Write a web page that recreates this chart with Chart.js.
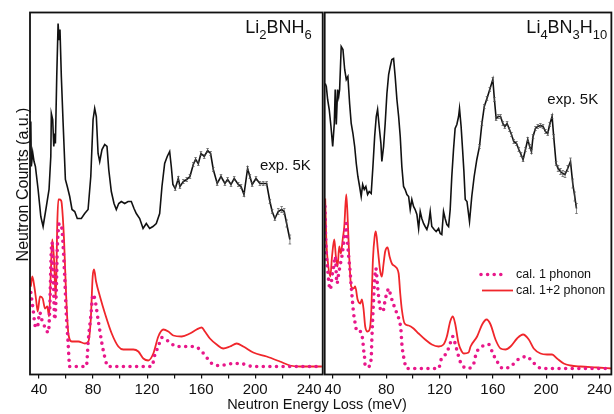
<!DOCTYPE html>
<html>
<head>
<meta charset="utf-8">
<script src="https://cdn.jsdelivr.net/npm/chart.js@4.4.1/dist/chart.umd.min.js"></script>
<style>
  html, body { margin: 0; padding: 0; background: #fff; }
  #wrap { position: relative; width: 614px; height: 414px; }
  #wrap canvas { position: absolute; left: 0; top: 0; }
</style>
</head>
<body>
<div id="wrap">
  <canvas id="chartL" width="614" height="414"></canvas>
  <canvas id="chartR" width="614" height="414"></canvas>
</div>
<script>
// --- Li2BNH6 (left panel) ---
const expLeftE = [33.9,34.3,35.3,36.3,37.3,39.3,41.3,43.0,45.4,47.4,
  48.7,49.1,50.1,50.9,51.6,52.1,53.1,54.1,54.8,55.5,
  56.5,57.8,59.5,60.9,62.7,64.4,66.4,68.3,71.3,73.8,
  76.3,78.3,80.0,81.2,82.4,83.7,84.9,86.6,88.6,90.3,
  91.6,93.5,95.5,97.2,99.0,100.9,103.4,105.9,108.3,110.3,
  112.0,114.5,117.0,119.4,121.9,124.3,126.8,129.3,131.0,133.0,
  134.9,136.7,137.9,139.1,140.8,143.1,144.3,146.8,149.3,151.7,
  154.2,155.9,157.9,159.9,162.3,164.8,167.0,169.0,171.9,174.7,
  177.6,179.6,182.1,184.5,187.5,189.5,191.7,194.4,196.1,197.8,
  200.6,203.5,206.0,208.5,210.9,212.6,214.6,217.1,219.6,221.5,
  223.3,225.7];
const expLeftI = [253,208,222,213,208,185,158,148,168,185,
  218,261,255,228,241,231,298,351,335,345,
  298,252,195,188,178,165,163,156,156,161,
  165,198,255,266,258,221,213,225,230,228,
  205,183,171,165,171,173,171,173,173,166,
  161,156,146,151,146,148,151,161,188,211,
  218,223,208,190,186,196,188,193,195,198,
  210,215,211,221,218,224,221,205,191,198,
  191,195,190,196,190,188,180,206,198,190,
  196,191,191,191,173,163,156,163,165,163,
  151,135];
const errLeftFrom = 140;   // error bars shown from this energy on
const errLeft = [2,2,2,2,2,2,2,2,2,2,
  2,2,2,2,2,2,2,2,2,2,
  2,2,2,2,2,2,2,2,2,2,
  2,2,2,3,3,3,3.5,4.5];

const twoLeftE = [33.9,35.0,36.5,37.8,39.0,40.7,42.7,44.4,46.1,47.4,
  48.7,49.8,51.1,52.4,53.5,54.3,55.0,56.3,56.8,58.5,
  60.0,61.7,64.2,69.1,74.0,76.5,78.3,79.7,80.7,82.2,
  85.1,88.8,93.8,98.7,102.4,109.8,113.5,117.2,120.9,124.6,
  128.3,132.0,135.7,139.4,145.6,151.7,156.7,160.4,162.8,166.5,
  171.5,176.4,181.3,186.3,191.2,198.6,208.5,218.3,225.7,233.1,
  249.4];
const twoLeftI = [88,98,88,75,63,78,76,66,68,58,
  101,135,115,75,151,175,175,174,171,135,
  81,41,33,33,31,33,55,98,105,93,
  78,61,41,28,25,25,23,16,14,21,
  38,45,43,39,38,41,45,47,43,36,
  30,26,28,31,28,22,18,13,9,8,
  8];

const oneLeftE = [33.9,35.6,37.3,38.7,40.5,42.0,43.0,44.4,46.9,47.9,
  49.1,49.6,50.4,51.6,52.8,53.5,55.0,56.5,59.0,60.0,
  61.5,62.7,75.0,76.5,78.3,80.0,81.4,83.7,87.4,91.3,
  123.4,125.8,128.3,130.8,134.0,136.9,141.9,154.2,159.1,164.1,
  168.9,173.9,183.8,188.7,198.6,249.4];
const oneLeftI = [82,65,48,47,62,55,52,47,42,65,
  125,132,105,55,85,125,151,149,98,65,
  32,8,8,35,58,80,75,55,25,8,
  8,20,28,37,35,32,28,28,25,17,
  10,9,11,11,8,8];

// --- Li4BN3H10 (right panel) ---
const expRightE = [34.2,35.0,36.0,37.2,38.5,39.8,41.0,41.7,42.5,43.5,
  44.3,45.0,46.2,47.5,48.8,50.0,51.2,52.5,53.7,55.0,
  56.3,57.5,58.7,60.0,61.2,62.3,63.5,64.7,66.0,67.2,
  68.7,70.0,71.3,72.5,73.5,74.7,76.0,76.7,78.0,79.2,
  80.5,81.8,83.0,84.2,85.5,86.7,88.0,89.3,90.5,91.7,
  93.0,94.2,95.5,96.8,98.0,99.2,100.5,101.7,103.0,104.3,
  105.5,106.7,108.0,109.2,110.5,111.8,113.0,114.2,116.0,117.5,
  119.3,120.5,121.7,123.0,124.2,125.5,126.8,128.0,129.2,130.5,
  131.7,133.0,134.3,135.0,136.2,137.3,138.3,139.3,140.6,142.5,
  144.2,146.0,148.0,150.0,151.8,153.6,155.6,157.7,160.0,161.2,
  162.5,164.0,165.8,167.5,169.0,170.7,172.5,174.0,175.7,177.8,
  179.5,181.2,182.7,184.5,186.2,187.7,189.0,190.2,192.0,193.7,
  195.7,197.7,199.5,201.2,202.7,204.5,205.7,207.5,209.0,210.8,
  212.5,214.2,216.2,218.3,220.0,221.5,222.8];
const expRightI = [291,288,275,265,248,228,251,285,250,285,
  278,285,328,325,305,295,298,271,251,241,
  228,211,198,188,178,190,185,188,180,183,
  181,208,238,258,265,248,231,213,228,251,
  281,300,308,315,316,298,275,258,238,208,
  188,185,180,178,165,175,168,165,160,146,
  163,156,151,148,145,151,163,148,145,143,
  146,141,140,163,156,150,148,165,198,225,
  246,250,258,266,248,225,203,175,173,153,
  178,198,215,228,251,268,276,285,295,275,
  256,258,258,251,248,251,245,240,233,231,
  225,220,215,225,235,228,223,238,246,248,
  249,248,243,241,250,258,238,211,206,203,
  201,200,206,213,191,178,166];
const errRightFrom = 150;
const errRight = [2,2,2,2,2,2,2,2,2,2,
  2,2,2,2,2,2,2,2,2,2,
  2,2,2,2,2,2,2,2,2,2,
  2,2,2,2,2,3,3,3,3,3,
  3.5,4.5,4.5,5];

const twoRightE = [34.2,35.0,36.3,38.0,39.3,41.0,42.2,43.5,44.7,46.0,
  47.3,48.5,50.0,51.2,52.2,53.7,55.5,56.7,58.5,60.5,
  61.7,63.0,64.2,66.0,67.5,68.7,70.0,71.3,72.2,73.7,
  75.5,76.7,78.0,79.2,81.0,82.5,84.2,86.7,89.3,90.5,
  91.7,93.8,96.8,100.5,104.3,109.2,114.2,119.3,123.0,125.5,
  128.0,130.0,131.7,134.3,136.7,138.2,141.8,143.3,148.2,152.0,
  155.3,158.3,162.0,165.8,169.5,173.3,178.2,182.7,187.0,190.7,
  195.8,200.7,204.5,208.2,213.2,218.3,225.8,238.2,249.4];
const twoRightI = [176,135,111,98,118,135,118,108,128,121,
  135,148,180,151,118,88,86,88,75,71,
  75,65,48,43,45,61,115,138,143,125,
  103,98,111,123,127,118,111,108,101,81,
  65,51,49,46,41,35,30,28,30,38,
  53,58,51,31,23,21,22,28,38,50,
  55,50,35,26,25,28,36,40,35,26,
  21,20,20,16,11,9,8,7,6];

const oneRightE = [34.0,34.6,35.2,36.3,36.8,38.0,39.3,40.5,41.7,43.0,
  44.3,45.5,46.7,48.0,49.2,50.0,51.0,51.8,53.0,53.7,
  54.8,55.5,56.7,58.0,60.5,62.3,63.0,63.8,64.2,66.7,
  68.7,69.2,69.8,70.5,71.3,72.2,73.5,74.7,76.2,78.0,
  79.2,80.5,81.8,83.5,85.5,88.0,90.0,91.0,91.7,93.0,
  95.5,119.3,121.2,125.5,128.0,130.0,131.7,133.7,135.5,140.7,
  145.7,147.5,152.0,157.0,160.0,163.2,167.7,173.3,179.0,185.7,
  189.5,197.0,249.2];
const oneRightI = [168,135,118,101,93,85,98,108,118,91,
  101,110,118,131,145,151,131,118,101,88,
  71,61,51,43,43,35,25,16,8,8,
  16,35,55,75,95,106,88,73,63,65,
  75,81,86,78,70,61,53,45,31,18,
  6,6,15,22,31,38,31,21,13,6,
  11,21,28,30,21,13,6,8,15,18,
  13,6,6];

const FONT = '"Liberation Sans", Arial, Helvetica, sans-serif';
const BLACK = '#111';
const RED = '#f0262b';
const PINK = '#e8178a';

function series(E, I) { return E.map((e, i) => ({ x: e, y: I[i] })); }

function errorsFor(E, from, errs) {
  let k = 0;
  return E.map(e => (e >= from ? errs[k++] : 0));
}

function datasets(oneE, oneI, twoE, twoI, expE, expI) {
  return [
    { label: 'cal. 1 phonon', data: series(oneE, oneI), borderColor: PINK, borderWidth: 3.6,
      borderDash: [0, 6.6], borderCapStyle: 'round', pointRadius: 0, cubicInterpolationMode: 'monotone' },
    { label: 'cal. 1+2 phonon', data: series(twoE, twoI), borderColor: RED, borderWidth: 1.8,
      pointRadius: 0, cubicInterpolationMode: 'monotone' },
    { label: 'exp. 5K', data: series(expE, expI), borderColor: BLACK, borderWidth: 1.6,
      pointRadius: 0, tension: 0 }
  ];
}

function scalesFor(min, max) {
  return {
    x: {
      type: 'linear', min, max,
      afterFit: s => { s.height = 39.5; },
      border: { display: false },
      grid: { drawOnChartArea: false, tickLength: 4, color: BLACK, lineWidth: 1.2 },
      ticks: {
        stepSize: 20, includeBounds: false, autoSkip: false, maxRotation: 0, padding: 2,
        color: BLACK, font: { family: FONT, size: 15 },
        callback: v => (v % 40 === 0 ? v : '')
      }
    },
    y: { display: false, min: 0, max: 362 }
  };
}

// frame around the plot area
const frame = {
  id: 'frame',
  afterDraw(chart) {
    const { ctx, chartArea: a } = chart;
    ctx.save();
    ctx.strokeStyle = BLACK;
    ctx.lineWidth = 1.8;
    ctx.strokeRect(a.left, a.top, a.right - a.left, a.bottom - a.top);
    ctx.restore();
  }
};

function errorBars(errs) {
  return {
    id: 'errorBars',
    afterDatasetsDraw(chart) {
      const { ctx, scales: { x, y } } = chart;
      const pts = chart.data.datasets[2].data;
      ctx.save();
      ctx.strokeStyle = '#555';
      ctx.lineWidth = 0.7;
      errs.forEach((err, i) => {
        if (!err) return;
        const px = x.getPixelForValue(pts[i].x);
        const y1 = y.getPixelForValue(pts[i].y - err);
        const y2 = y.getPixelForValue(pts[i].y + err);
        ctx.beginPath();
        ctx.moveTo(px, y1); ctx.lineTo(px, y2);
        ctx.moveTo(px - 1.3, y1); ctx.lineTo(px + 1.3, y1);
        ctx.moveTo(px - 1.3, y2); ctx.lineTo(px + 1.3, y2);
        ctx.stroke();
      });
      ctx.restore();
    }
  };
}

// chemical formula with subscripts, right aligned
function drawFormula(ctx, parts, right, base) {
  const big = '18px ' + FONT, small = '13px ' + FONT;
  let w = 0;
  parts.forEach(([t, sub]) => { ctx.font = sub ? small : big; w += ctx.measureText(t).width; });
  let x = right - w;
  ctx.textAlign = 'left';
  ctx.textBaseline = 'alphabetic';
  parts.forEach(([t, sub]) => {
    ctx.font = sub ? small : big;
    ctx.fillText(t, x, sub ? base + 6 : base);
    x += ctx.measureText(t).width;
  });
}

const leftText = {
  id: 'leftText',
  afterDraw(chart) {
    const ctx = chart.ctx;
    ctx.save();
    ctx.fillStyle = BLACK;
    drawFormula(ctx, [['Li', 0], ['2', 1], ['BNH', 0], ['6', 1]], 311.7, 33.3);
    ctx.font = '15px ' + FONT;
    ctx.textAlign = 'left';
    ctx.fillText('exp. 5K', 260, 170);
    // axis titles
    ctx.font = '14.5px ' + FONT;
    ctx.textAlign = 'center';
    ctx.fillText('Neutron Energy Loss (meV)', 317, 409);
    ctx.translate(28, 184.5);
    ctx.rotate(-Math.PI / 2);
    ctx.font = '16px ' + FONT;
    ctx.fillText('Neutron Counts (a.u.)', 0, 0);
    ctx.restore();
  }
};

const rightText = {
  id: 'rightText',
  afterDraw(chart) {
    const ctx = chart.ctx;
    ctx.save();
    ctx.fillStyle = BLACK;
    drawFormula(ctx, [['Li', 0], ['4', 1], ['BN', 0], ['3', 1], ['H', 0], ['10', 1]], 607.3, 33.3);
    ctx.font = '15px ' + FONT;
    ctx.textAlign = 'left';
    ctx.fillText('exp. 5K', 547.3, 104);
    // legend
    const ds = chart.data.datasets;
    ctx.lineCap = 'round';
    ctx.strokeStyle = ds[0].borderColor;
    ctx.lineWidth = ds[0].borderWidth;
    ctx.setLineDash(ds[0].borderDash);
    ctx.beginPath(); ctx.moveTo(481, 274.5); ctx.lineTo(503, 274.5); ctx.stroke();
    ctx.setLineDash([]);
    ctx.lineCap = 'butt';
    ctx.strokeStyle = ds[1].borderColor;
    ctx.lineWidth = ds[1].borderWidth;
    ctx.beginPath(); ctx.moveTo(482, 290.5); ctx.lineTo(513, 290.5); ctx.stroke();
    ctx.font = '12.5px ' + FONT;
    ctx.textBaseline = 'middle';
    ctx.fillText(ds[0].label, 516, 274.5);
    ctx.fillText(ds[1].label, 516, 290.5);
    ctx.restore();
  }
};

function makeChart(id, data, min, max, pad, plugins) {
  return new Chart(document.getElementById(id), {
    type: 'line',
    data: { datasets: data },
    options: {
      responsive: false,
      animation: false,
      layout: { padding: pad },
      plugins: { legend: { display: false }, tooltip: { enabled: false } },
      scales: scalesFor(min, max)
    },
    plugins
  });
}

makeChart('chartL',
  datasets(oneLeftE, oneLeftI, twoLeftE, twoLeftI, expLeftE, expLeftI),
  33.3, 250, { left: 30, right: 291.3, top: 12.5, bottom: 0 },
  [frame, errorBars(errorsFor(expLeftE, errLeftFrom, errLeft)), leftText]);

makeChart('chartR',
  datasets(oneRightE, oneRightI, twoRightE, twoRightI, expRightE, expRightI),
  33.8, 249, { left: 324.7, right: 2.3, top: 12.5, bottom: 0 },
  [frame, errorBars(errorsFor(expRightE, errRightFrom, errRight)), rightText]);
</script>
</body>
</html>
